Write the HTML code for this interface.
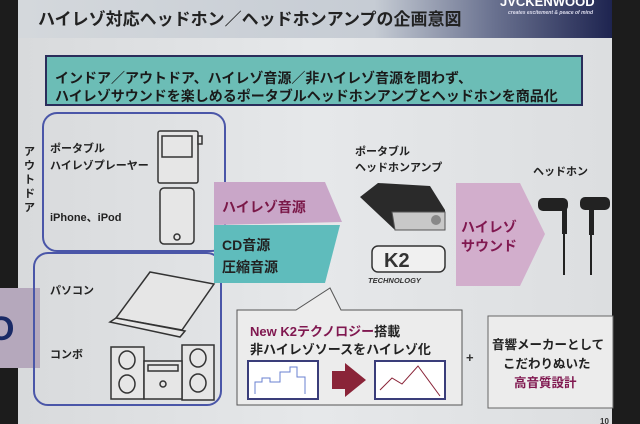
<!DOCTYPE html>
<html><head><meta charset="utf-8"><style>
body{margin:0;width:640px;height:424px;overflow:hidden;background:#222}
svg{display:block}
text{font-family:"Liberation Sans","Noto Sans CJK JP",sans-serif;font-weight:bold}
</style></head><body>
<svg width="640" height="424" viewBox="0 0 640 424">
<defs>
<linearGradient id="hd" x1="0" x2="1">
<stop offset="0" stop-color="#d4d8dc"/><stop offset="0.6" stop-color="#c6ccd4"/><stop offset="0.8" stop-color="#6a7290"/><stop offset="1" stop-color="#1e2450"/>
</linearGradient>
<linearGradient id="bg" x1="0" x2="1">
<stop offset="0" stop-color="#d8dadc"/><stop offset="0.5" stop-color="#e6e8ea"/><stop offset="1" stop-color="#dcdee0"/>
</linearGradient>
</defs>
<rect width="640" height="424" fill="#1c1c1c"/>
<rect x="18" y="0" width="594" height="424" fill="url(#bg)"/>
<rect x="18" y="0" width="594" height="38" fill="url(#hd)"/>
<text x="38" y="25" font-size="17" fill="#222">ハイレゾ対応ヘッドホン／ヘッドホンアンプの企画意図</text>
<text x="500" y="6" font-size="13" fill="#fff">JVCKENWOOD</text>
<text x="508" y="14" font-size="5" fill="#dde" font-weight="normal" font-style="italic">creates excitement &amp; peace of mind</text>
<rect x="46" y="56" width="536" height="49" fill="#6cbdb6" stroke="#2a2d5a" stroke-width="2"/>
<text x="55" y="83" font-size="14" fill="#1a1a1a">インドア／アウトドア、ハイレゾ音源／非ハイレゾ音源を問わず、</text>
<text x="55" y="101" font-size="14" fill="#1a1a1a">ハイレゾサウンドを楽しめるポータブルヘッドホンアンプとヘッドホンを商品化</text>
<rect x="0" y="288" width="40" height="80" fill="#b5a8bc"/>
<text x="-12" y="340" font-size="34" fill="#1a2a66">O</text>
<rect x="43" y="113" width="182" height="138" rx="14" fill="none" stroke="#4a56a8" stroke-width="2"/>
<rect x="34" y="253" width="187" height="152" rx="14" fill="none" stroke="#4a56a8" stroke-width="2"/>
<g font-size="11" fill="#222">
<text x="24" y="155">ア</text><text x="24" y="169">ウ</text><text x="24" y="183">ト</text><text x="24" y="197">ド</text><text x="24" y="211">ア</text>
<text x="50" y="152">ポータブル</text><text x="50" y="169">ハイレゾプレーヤー</text>
<text x="50" y="221">iPhone、iPod</text>
<text x="50" y="294">パソコン</text><text x="50" y="358">コンボ</text>
</g>
<g fill="#e6e6e6" stroke="#333" stroke-width="1.5">
<rect x="158" y="131" width="40" height="52" rx="2"/><rect x="162" y="136" width="30" height="21"/>
<rect x="198" y="136" width="4" height="8"/>
<rect x="160" y="188" width="34" height="56" rx="4"/><circle cx="177" cy="237" r="3"/>
<path d="M150 272 L214 284 L182 330 L116 318 Z"/><path d="M110 322 L180 337 L185 331 L116 318 Z"/>
<rect x="111" y="347" width="33" height="52"/><rect x="182" y="345" width="32" height="55"/>
<rect x="144" y="361" width="38" height="38"/><rect x="148" y="365" width="30" height="6"/>
<ellipse cx="127" cy="360" rx="8" ry="9"/><ellipse cx="127" cy="384" rx="8" ry="9"/>
<ellipse cx="198" cy="358" rx="8" ry="9"/><ellipse cx="198" cy="383" rx="8" ry="9"/>
<circle cx="163" cy="384" r="3"/>
</g>
<path d="M214 182 L325 182 L342 222 L214 225 Z" fill="#c9a6c8"/>
<path d="M214 225 L340 225 L325 283 L214 283 Z" fill="#5fbcbc"/>
<text x="222" y="212" font-size="14" fill="#7a1848">ハイレゾ音源</text>
<text x="222" y="250" font-size="14" fill="#222">CD音源</text>
<text x="222" y="272" font-size="14" fill="#222">圧縮音源</text>
<text x="355" y="155" font-size="11" fill="#222">ポータブル</text>
<text x="355" y="171" font-size="11" fill="#222">ヘッドホンアンプ</text>
<path d="M360 197 L378 183 L430 186 L445 210 L445 230 L395 230 Z" fill="#2a2a2a"/>
<path d="M392 212 L445 212 L445 230 L395 230 Z" fill="#c8c8c8" stroke="#555"/>
<circle cx="436" cy="220" r="5" fill="#888"/>
<rect x="372" y="246" width="73" height="26" rx="6" fill="#f0f0f0" stroke="#333" stroke-width="1.5"/>
<text x="384" y="267" font-size="20" fill="#333">K2</text>
<text x="368" y="283" font-size="7.5" fill="#333" font-style="italic">TECHNOLOGY</text>
<path d="M456 183 L520 183 L545 234 L520 286 L456 286 Z" fill="#d2aecc"/>
<text x="461" y="232" font-size="14" fill="#801850">ハイレゾ</text>
<text x="461" y="251" font-size="14" fill="#801850">サウンド</text>
<text x="533" y="175" font-size="11" fill="#222">ヘッドホン</text>
<g fill="#222"><rect x="538" y="198" width="30" height="13" rx="5"/><rect x="580" y="197" width="30" height="13" rx="5"/>
<rect x="562" y="204" width="5" height="30"/><rect x="589" y="205" width="5" height="30"/>
<rect x="563" y="230" width="2" height="45"/><rect x="590" y="230" width="2" height="45"/></g>
<path d="M237 310 L296 310 L330 288 L341 310 L462 310 L462 405 L237 405 Z" fill="#ececec" stroke="#555"/>
<text x="250" y="336" font-size="13"><tspan fill="#801850">New K2テクノロジー</tspan><tspan fill="#222">搭載</tspan></text>
<text x="250" y="354" font-size="13" fill="#222">非ハイレゾソースをハイレゾ化</text>
<rect x="248" y="361" width="70" height="38" fill="#fff" stroke="#3a3d7a" stroke-width="2"/>
<path d="M255 394 L255 382 L262 382 L262 378 L270 378 L270 382 L280 382 L280 372 L290 372 L290 367 L297 367 L297 377 L305 377 L305 394" fill="none" stroke="#6a80d0"/>
<path d="M332 371 L345 371 L345 363 L366 380 L345 397 L345 389 L332 389 Z" fill="#8a2438"/>
<rect x="375" y="361" width="70" height="38" fill="#fff" stroke="#3a3d7a" stroke-width="2"/>
<path d="M380 390 L392 378 L402 384 L418 366 L440 396" fill="none" stroke="#8a2438"/>
<text x="466" y="362" font-size="13" fill="#333" font-weight="normal">+</text>
<rect x="488" y="316" width="125" height="92" fill="#ececec" stroke="#666"/>
<text x="492" y="349" font-size="12.5" fill="#222">音響メーカーとして</text>
<text x="503" y="368" font-size="12.5" fill="#222">こだわりぬいた</text>
<text x="514" y="387" font-size="12.5" fill="#801850">高音質設計</text>
<text x="600" y="424" font-size="8" fill="#333" font-weight="normal">10</text>
</svg>
</body></html>
